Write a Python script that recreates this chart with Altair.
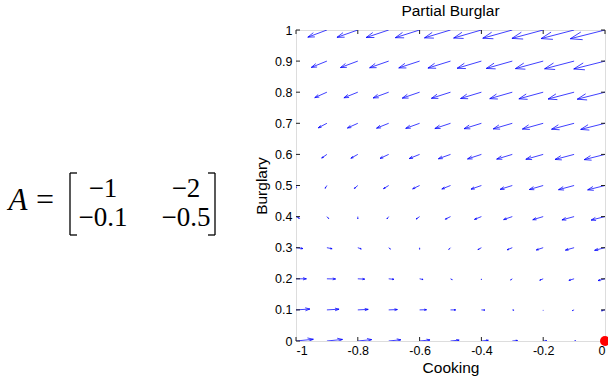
import altair as alt
import pandas as pd

# grid of the vector field
xs = [-1.0, -0.9, -0.8, -0.7, -0.6, -0.5, -0.4, -0.3, -0.2, -0.1, 0.0]
ys = [0.0, 0.1, 0.2, 0.3, 0.4, 0.5, 0.6, 0.7, 0.8, 0.9, 1.0]

# dx/dt components, one row per y value (bottom to top)
u_rows = [
    [1.0, 0.9, 0.8, 0.7, 0.6, 0.5, 0.4, 0.3, 0.2, 0.1, 0.0],
    [0.8, 0.7, 0.6, 0.5, 0.4, 0.3, 0.2, 0.1, 0.0, -0.1, -0.2],
    [0.6, 0.5, 0.4, 0.3, 0.2, 0.1, 0.0, -0.1, -0.2, -0.3, -0.4],
    [0.4, 0.3, 0.2, 0.1, 0.0, -0.1, -0.2, -0.3, -0.4, -0.5, -0.6],
    [0.2, 0.1, 0.0, -0.1, -0.2, -0.3, -0.4, -0.5, -0.6, -0.7, -0.8],
    [0.0, -0.1, -0.2, -0.3, -0.4, -0.5, -0.6, -0.7, -0.8, -0.9, -1.0],
    [-0.2, -0.3, -0.4, -0.5, -0.6, -0.7, -0.8, -0.9, -1.0, -1.1, -1.2],
    [-0.4, -0.5, -0.6, -0.7, -0.8, -0.9, -1.0, -1.1, -1.2, -1.3, -1.4],
    [-0.6, -0.7, -0.8, -0.9, -1.0, -1.1, -1.2, -1.3, -1.4, -1.5, -1.6],
    [-0.8, -0.9, -1.0, -1.1, -1.2, -1.3, -1.4, -1.5, -1.6, -1.7, -1.8],
    [-1.0, -1.1, -1.2, -1.3, -1.4, -1.5, -1.6, -1.7, -1.8, -1.9, -2.0],
]
# dy/dt components
v_rows = [
    [0.10, 0.09, 0.08, 0.07, 0.06, 0.05, 0.04, 0.03, 0.02, 0.01, 0.00],
    [0.05, 0.04, 0.03, 0.02, 0.01, 0.00, -0.01, -0.02, -0.03, -0.04, -0.05],
    [0.00, -0.01, -0.02, -0.03, -0.04, -0.05, -0.06, -0.07, -0.08, -0.09, -0.10],
    [-0.05, -0.06, -0.07, -0.08, -0.09, -0.10, -0.11, -0.12, -0.13, -0.14, -0.15],
    [-0.10, -0.11, -0.12, -0.13, -0.14, -0.15, -0.16, -0.17, -0.18, -0.19, -0.20],
    [-0.15, -0.16, -0.17, -0.18, -0.19, -0.20, -0.21, -0.22, -0.23, -0.24, -0.25],
    [-0.20, -0.21, -0.22, -0.23, -0.24, -0.25, -0.26, -0.27, -0.28, -0.29, -0.30],
    [-0.25, -0.26, -0.27, -0.28, -0.29, -0.30, -0.31, -0.32, -0.33, -0.34, -0.35],
    [-0.30, -0.31, -0.32, -0.33, -0.34, -0.35, -0.36, -0.37, -0.38, -0.39, -0.40],
    [-0.35, -0.36, -0.37, -0.38, -0.39, -0.40, -0.41, -0.42, -0.43, -0.44, -0.45],
    [-0.40, -0.41, -0.42, -0.43, -0.44, -0.45, -0.46, -0.47, -0.48, -0.49, -0.50],
]

x_ticks = [-1.0, -0.8, -0.6, -0.4, -0.2, 0.0]
y_ticks = [0.0, 0.1, 0.2, 0.3, 0.4, 0.5, 0.6, 0.7, 0.8, 0.9, 1.0]
equilibrium_x = [0.0]
equilibrium_y = [0.0]

matrix_row1 = ["\u22121", "\u22122"]
matrix_row2 = ["\u22120.1", "\u22120.5"]

# quiver styling (MATLAB-like autoscale and arrowheads)
SCALE = 0.0562
ALPHA = 0.33
BETA = 0.33

segs = []
for i, y in enumerate(ys):
    for j, x in enumerate(xs):
        u = u_rows[i][j] * SCALE
        v = v_rows[i][j] * SCALE
        tx, ty = x + u, y + v
        segs.append({"x": x, "y": y, "x2": tx, "y2": ty})
        segs.append({"x": tx - ALPHA * (u + BETA * v), "y": ty - ALPHA * (v - BETA * u), "x2": tx, "y2": ty})
        segs.append({"x": tx - ALPHA * (u - BETA * v), "y": ty - ALPHA * (v + BETA * u), "x2": tx, "y2": ty})
seg_df = pd.DataFrame(segs)

W, H = 309, 311
FONT = "Liberation Sans"
MFONT = "Liberation Serif"

xscale = alt.Scale(domain=[-1, 0], nice=False, zero=False)
yscale = alt.Scale(domain=[0, 1], nice=False, zero=False)
minus_fix = "replace(datum.label, '\u2212', '-')"

xaxis = alt.Axis(
    values=x_ticks, format="~g", labelExpr=minus_fix, title="Cooking",
    domain=False, ticks=False, grid=False, labelPadding=3, titlePadding=4,
    labelFont=FONT, labelFontSize=12.5, labelColor="#000",
    titleFont=FONT, titleFontSize=15.5, titleFontWeight="normal", titleColor="#000")
yaxis = alt.Axis(
    values=y_ticks, format="~g", labelExpr=minus_fix, title="Burglary",
    domain=False, ticks=False, grid=False, labelPadding=4, titlePadding=5,
    labelFont=FONT, labelFontSize=12.5, labelColor="#000",
    titleFont=FONT, titleFontSize=15.5, titleFontWeight="normal", titleColor="#000")

arrows = alt.Chart(seg_df).mark_rule(color="#0000ff", strokeWidth=0.75, clip=True).encode(
    x=alt.X("x:Q", scale=xscale, axis=xaxis),
    y=alt.Y("y:Q", scale=yscale, axis=yaxis),
    x2="x2:Q",
    y2="y2:Q",
)

xt = pd.DataFrame({"x": x_ticks})
yt = pd.DataFrame({"y": y_ticks})
tick_style = dict(color="#222", strokeWidth=1)
xt_bottom = alt.Chart(xt).mark_rule(**tick_style).encode(
    x=alt.X("x:Q", scale=xscale, axis=xaxis), y=alt.value(H), y2=alt.value(H - 4))
xt_top = alt.Chart(xt).mark_rule(**tick_style).encode(
    x=alt.X("x:Q", scale=xscale, axis=xaxis), y=alt.value(0), y2=alt.value(4))
yt_left = alt.Chart(yt).mark_rule(**tick_style).encode(
    y=alt.Y("y:Q", scale=yscale, axis=yaxis), x=alt.value(0), x2=alt.value(4))
yt_right = alt.Chart(yt).mark_rule(**tick_style).encode(
    y=alt.Y("y:Q", scale=yscale, axis=yaxis), x=alt.value(W), x2=alt.value(W - 4))

dot = alt.Chart(pd.DataFrame({"x": equilibrium_x, "y": equilibrium_y})).mark_circle(
    color="#ff0000", opacity=1, size=100, clip=False).encode(
    x=alt.X("x:Q", scale=xscale, axis=xaxis), y=alt.Y("y:Q", scale=yscale, axis=yaxis))

# matrix annotation on the left
one = pd.DataFrame({"k": [0]})
def txt(s, x, y, size=27, style="normal", align="center"):
    return alt.Chart(one).mark_text(
        text=s, font=MFONT, fontSize=size, fontStyle=style, align=align,
        baseline="alphabetic", color="#000").encode(x=alt.value(x), y=alt.value(y))

def seg(x1, y1, x2, y2):
    return alt.Chart(one).mark_rule(color="#000", strokeWidth=1.3).encode(
        x=alt.value(x1), y=alt.value(y1), x2=alt.value(x2), y2=alt.value(y2))

L, R, T, B = -226, -81, 143, 205
matrix = [
    txt("A", -278, 180, size=31, style="italic"),
    txt("=", -251, 180, size=32),
    txt(matrix_row1[0], -193, 167), txt(matrix_row1[1], -110, 167),
    txt(matrix_row2[0], -193, 196), txt(matrix_row2[1], -110, 196),
    seg(L, T, L, B), seg(L, T, L + 7, T), seg(L, B, L + 7, B),
    seg(R, T, R, B), seg(R, T, R - 7, T), seg(R, B, R - 7, B),
]

chart = alt.layer(arrows, xt_bottom, xt_top, yt_left, yt_right, dot, *matrix).properties(
    width=W, height=H,
    title=alt.TitleParams("Partial Burglar", font=FONT, fontSize=15.5, fontWeight="normal",
                          color="#000", offset=5),
    autosize=alt.AutoSizeParams(type="none"),
    padding={"left": 296, "top": 30, "right": 3, "bottom": 40},
).configure_view(stroke="#222", strokeWidth=1).configure(background="white")

chart.save("out.html", embed_options={"renderer": "svg", "actions": False})
